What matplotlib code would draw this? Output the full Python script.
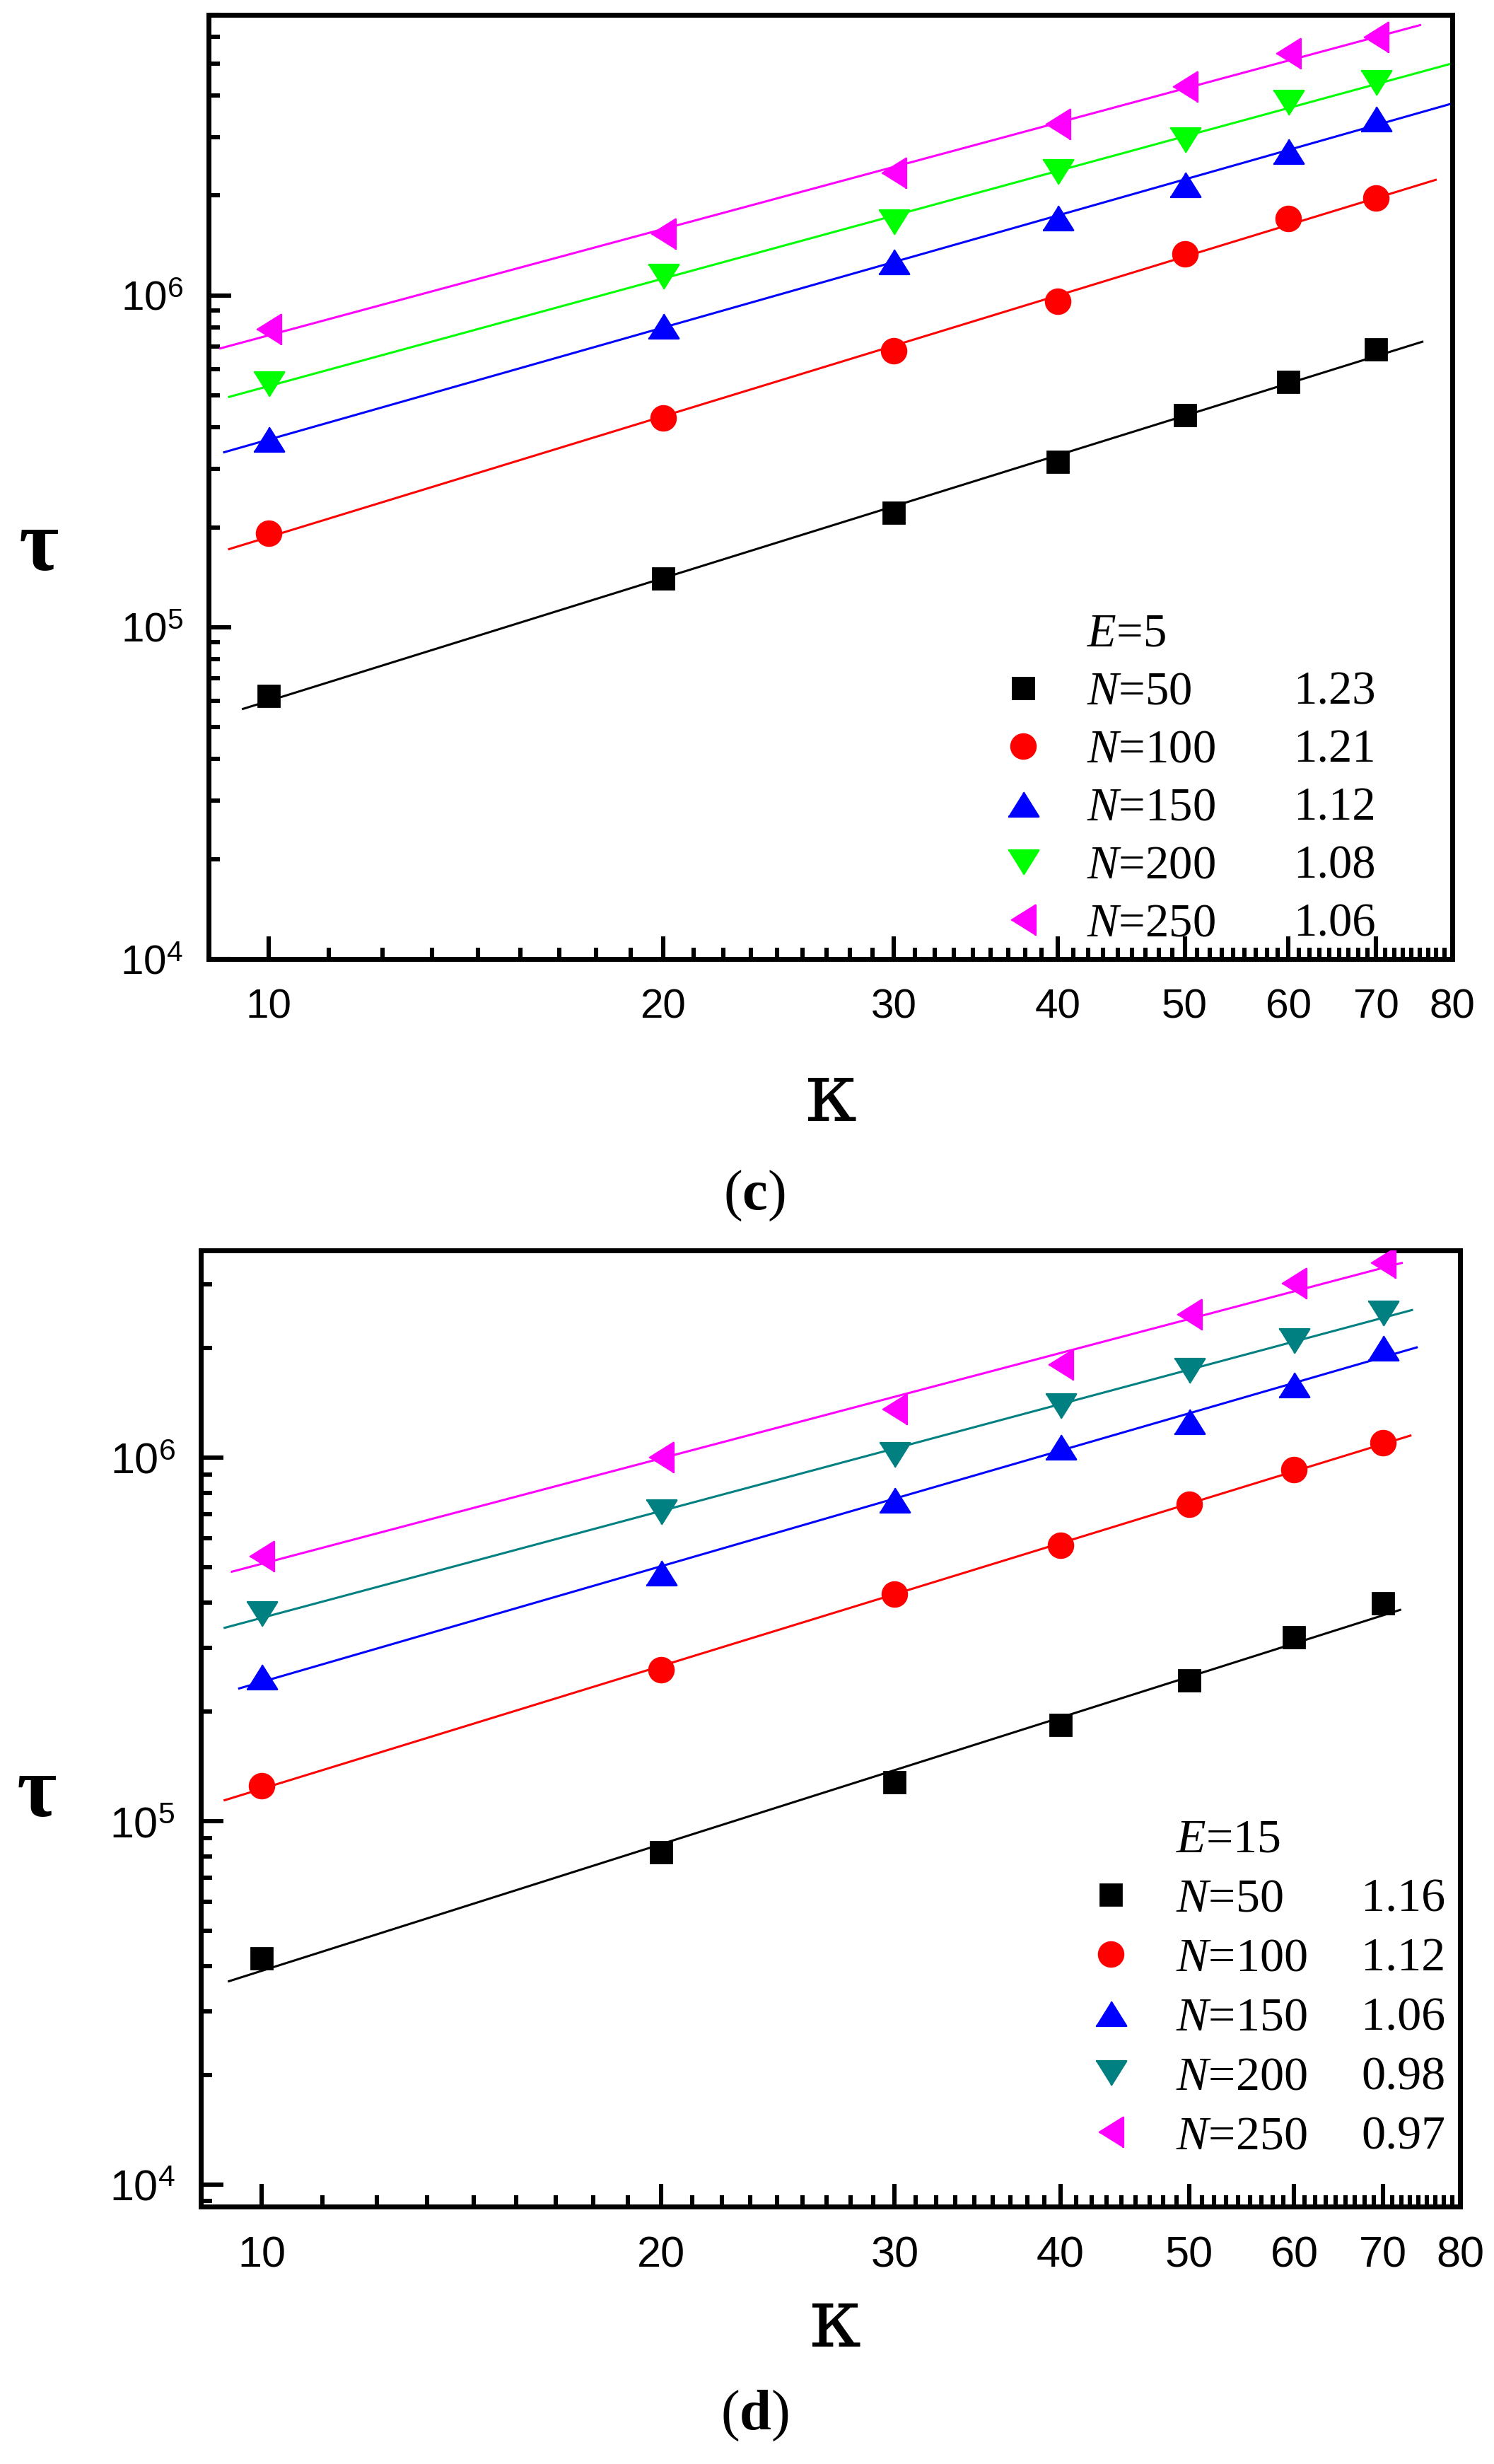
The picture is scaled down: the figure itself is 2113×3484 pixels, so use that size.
import numpy as np
import matplotlib
matplotlib.use('Agg')
import matplotlib.pyplot as plt
from matplotlib import ticker
from matplotlib.lines import Line2D

plt.rcParams['font.family'] = 'Liberation Sans'
plt.rcParams['mathtext.fontset'] = 'custom'
plt.rcParams['mathtext.rm'] = 'Liberation Sans'
plt.rcParams['mathtext.it'] = 'Liberation Serif:italic'
plt.rcParams['mathtext.bf'] = 'Liberation Serif:bold'

# ---- data ----
kappa = np.array([10, 20, 30, 40, 50, 60, 70])
chains = [50, 100, 150, 200, 250]

# panel (c), E = 5
tau_c_n50 = [6.2e4, 1.40e5, 2.21e5, 3.15e5, 4.36e5, 5.48e5, 6.87e5]
tau_c_n100 = [1.92e5, 4.27e5, 6.82e5, 9.6e5, 1.33e6, 1.70e6, 1.96e6]
tau_c_n150 = [3.69e5, 8.06e5, 1.265e6, 1.71e6, 2.16e6, 2.72e6, 3.40e6]
tau_c_n200 = [5.40e5, 1.14e6, 1.66e6, 2.35e6, 2.94e6, 3.81e6, 4.38e6]
tau_c_n250 = [7.88e5, 1.53e6, 2.33e6, 3.27e6, 4.24e6, 5.35e6, 5.97e6]
slopes_c = ['1.23', '1.21', '1.12', '1.08', '1.06']
fit_range_c = [(9.56, 75.9), (9.33, 77.7), (9.25, 81.4), (9.33, 79.8), (9.19, 75.6)]

# panel (d), E = 15
tau_d_n50 = [4.2e4, 8.2e4, 1.28e5, 1.84e5, 2.44e5, 3.21e5, 3.98e5]
tau_d_n100 = [1.25e5, 2.61e5, 4.21e5, 5.75e5, 7.46e5, 9.29e5, 1.10e6]
tau_d_n150 = [2.50e5, 4.82e5, 7.65e5, 1.07e6, 1.26e6, 1.59e6, 2.00e6]
tau_d_n200 = [3.71e5, 7.10e5, 1.02e6, 1.39e6, 1.74e6, 2.10e6, 2.50e6]
tau_d_n250 = [5.34e5, 1.00e6, 1.36e6, 1.80e6, 2.47e6, 3.02e6, 3.43e6]
slopes_d = ['1.16', '1.12', '1.06', '0.98', '0.97']
fit_range_d = [(9.45, 72.1), (9.38, 73.4), (9.62, 74.2), (9.38, 73.6), (9.5, 72.3)]

# ---- styles ----
colors_c = ['black', '#ff0000', '#0000ff', '#00ff00', '#ff00ff']
colors_d = ['black', '#ff0000', '#0000ff', '#008080', '#ff00ff']
tri_up = [(-1, -0.8), (1, -0.8), (0, 0.8)]
tri_dn = [(-1, 0.8), (1, 0.8), (0, -0.8)]
tri_lf = [(-0.8, 0), (0.8, 1), (0.8, -1)]
markers = ['s', 'o', tri_up, tri_dn, tri_lf]
msizes = [11, 12.5, 15.5, 15.5, 15.5]

W, H, DPI = 2113, 3484, 200
fig = plt.figure(figsize=(W / DPI, H / DPI), dpi=DPI)


def px_axes(l, r, t, b):
    return fig.add_axes([l / W, 1 - b / H, (r - l) / W, (b - t) / H])


def panel(ax, series, colors, ranges, ylim, e_label, anchor, fs_leg, fs_tick, spacing):
    for tau, c, m, ms, (x0, x1) in zip(series, colors, markers, msizes, ranges):
        ax.plot(kappa, tau, ls='none', marker=m, ms=ms, color=c, mec=c, zorder=3)
        p = np.polyfit(np.log10(kappa), np.log10(tau), 1)
        xf = np.geomspace(x0, x1, 50)
        ax.plot(xf, 10 ** np.polyval(p, np.log10(xf)), color=c, lw=1.1, zorder=2)

    ax.set_xscale('log')
    ax.set_yscale('log')
    ax.set_xlim(9, 80)
    ax.set_ylim(*ylim)

    majors = [10, 20, 30, 40, 50, 60, 70, 80]
    minors = [a + (b - a) * k / 9 for a, b in zip(majors[:-1], majors[1:]) for k in range(1, 9)]
    ax.xaxis.set_major_locator(ticker.FixedLocator(majors))
    ax.xaxis.set_minor_locator(ticker.FixedLocator(minors))
    ax.xaxis.set_major_formatter(ticker.FormatStrFormatter('%d'))
    ax.xaxis.set_minor_formatter(ticker.NullFormatter())
    ax.yaxis.set_major_locator(ticker.LogLocator(base=10, numticks=10))
    ax.yaxis.set_minor_locator(ticker.LogLocator(base=10, subs=np.arange(2, 10), numticks=20))
    ax.yaxis.set_major_formatter(ticker.FuncFormatter(lambda v, pos: r'$10^{%d}$' % round(np.log10(v))))
    ax.yaxis.set_minor_formatter(ticker.NullFormatter())

    ax.tick_params(which='both', direction='in', top=False, right=False, width=2.2,
                   labelsize=fs_tick, color='black')
    ax.tick_params(which='major', length=11.5)
    ax.tick_params(which='minor', length=5.8)
    ax.tick_params(axis='x', pad=15)
    ax.tick_params(axis='y', pad=13)
    for s in ax.spines.values():
        s.set_linewidth(2.5)

    handles = [Line2D([], [], ls='none')]
    handles += [Line2D([], [], ls='none', marker=m, ms=ms, color=c)
                for c, m, ms in zip(colors, markers, msizes)]
    labels = [e_label] + ['$N$=%d' % n for n in chains]
    leg = ax.legend(handles, labels, loc='lower left', bbox_to_anchor=anchor,
                    frameon=False, borderpad=0, borderaxespad=0, handlelength=1.0,
                    handletextpad=0.85, labelspacing=spacing,
                    prop={'family': 'Liberation Serif', 'size': fs_leg})
    return leg


ax_c = px_axes(295, 2054, 21, 1356)
series_c = [tau_c_n50, tau_c_n100, tau_c_n150, tau_c_n200, tau_c_n250]
leg_c = panel(ax_c, series_c, colors_c, fit_range_c, (1e4, 7e6), '$E$=5',
              (0.636, 0.0135), 24, 21, 0.315)

ax_d = px_axes(284, 2065, 1768, 3120)
series_d = [tau_d_n50, tau_d_n100, tau_d_n150, tau_d_n200, tau_d_n250]
leg_d = panel(ax_d, series_d, colors_d, fit_range_d, (8.7e3, 3.72e6), '$E$=15',
              (0.7035, 0.0496), 24.5, 22, 0.33)

# slope values, one per legend row
fig.canvas.draw()
renderer = fig.canvas.get_renderer()
for ax, leg, slopes, sx, fs in [(ax_c, leg_c, slopes_c, 0.872, 24),
                                (ax_d, leg_d, slopes_d, 0.9214, 24.5)]:
    inv = ax.transAxes.inverted()
    for t, s in zip(leg.get_texts()[1:], slopes):
        bb = t.get_window_extent(renderer)
        y = inv.transform(((bb.x0 + bb.x1) / 2, (bb.y0 + bb.y1) / 2))[1]
        ax.text(sx, y, s, transform=ax.transAxes, ha='left', va='center',
                family='Liberation Serif', size=fs)

# axis titles and panel captions
def fig_text(x, y, s, family='Liberation Serif', **kw):
    fig.text(x / W, 1 - y / H, s, ha='center', va='baseline', family=family, **kw)

fig_text(55, 806, 'τ', fontsize=44, fontweight='bold')
fig_text(1175, 1585, 'κ', family='DejaVu Serif', fontsize=42)
fig_text(1067, 1710, r'($\mathbf{c}$)', fontsize=29)
fig_text(52, 2568, 'τ', fontsize=44, fontweight='bold')
fig_text(1181, 3318, 'κ', family='DejaVu Serif', fontsize=42)
fig_text(1067, 3435, r'($\mathbf{d}$)', fontsize=29)

fig.savefig('out.png', dpi=DPI, facecolor='white')
